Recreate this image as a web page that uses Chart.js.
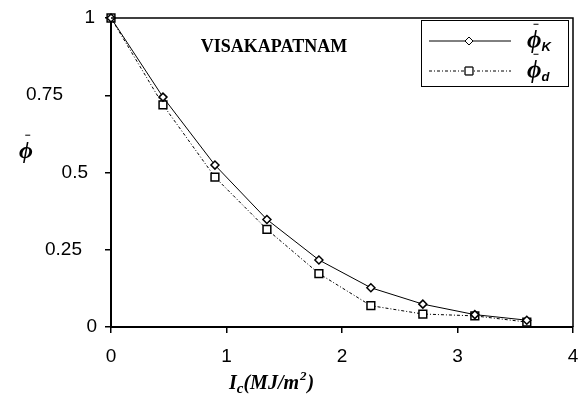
<!DOCTYPE html>
<html>
<head>
<meta charset="utf-8">
<script src="https://cdn.jsdelivr.net/npm/chart.js@4"></script>
<style>
  html, body { margin: 0; padding: 0; background: #fff; }
  #wrap { width: 586px; height: 414px; position: relative; }
</style>
</head>
<body>
<div id="wrap"><canvas id="phiChart" width="586" height="414"></canvas></div>
<script>
// data
const icValues = [0, 0.45, 0.9, 1.35, 1.8, 2.25, 2.7, 3.15, 3.6];
const phiK = [1, 0.744, 0.524, 0.348, 0.217, 0.127, 0.074, 0.040, 0.022];
const phiD = [1, 0.719, 0.485, 0.316, 0.173, 0.069, 0.042, 0.036, 0.016];
const xTickLabels = ['0', '1', '2', '3', '4'];
const yTickLabels = ['0', '0.25', '0.5', '0.75', '1'];

// the y labels in the original are not right aligned, gap from axis per label
const yLabelGap = [14, 29, 23, 48, 16];

const SERIF = "'Liberation Serif', 'Times New Roman', serif";
const SANS = "'Liberation Sans', Arial, sans-serif";

function toPoints(xs, ys) {
    return xs.map((x, i) => ({ x: x, y: ys[i] }));
}

// draws a phi with a bar on top, returns the right edge
function drawPhiBar(ctx, x, y, size) {
    ctx.font = 'italic bold ' + size + 'px ' + SERIF;
    ctx.textAlign = 'left';
    ctx.textBaseline = 'alphabetic';
    ctx.fillText('\u03D5', x, y);
    const w = ctx.measureText('\u03D5').width;
    ctx.beginPath();
    ctx.lineWidth = 1;
    ctx.moveTo(x + w * 0.45, y - size * 0.95);
    ctx.lineTo(x + w * 0.45 + 5, y - size * 0.95);
    ctx.stroke();
    return x + w;
}

const decorations = {
    id: 'decorations',
    afterDraw(chart) {
        const ctx = chart.ctx;
        const area = chart.chartArea;
        const xs = chart.scales.x;
        const ys = chart.scales.y;
        ctx.save();
        ctx.strokeStyle = '#000';
        ctx.fillStyle = '#000';

        // top and right frame lines
        ctx.lineWidth = 1.5;
        ctx.beginPath();
        ctx.moveTo(area.left, area.top);
        ctx.lineTo(area.right, area.top);
        ctx.lineTo(area.right, area.bottom);
        ctx.stroke();

        // tick labels
        ctx.font = '19px ' + SANS;
        ctx.textBaseline = 'middle';
        ctx.textAlign = 'right';
        yTickLabels.forEach((lab, i) => {
            ctx.fillText(lab, area.left - yLabelGap[i], ys.getPixelForValue(parseFloat(lab)));
        });
        ctx.textAlign = 'center';
        xTickLabels.forEach((lab) => {
            ctx.fillText(lab, xs.getPixelForValue(parseFloat(lab)), area.bottom + 30);
        });

        // station name
        ctx.font = 'bold 18px ' + SERIF;
        ctx.textAlign = 'center';
        ctx.textBaseline = 'alphabetic';
        ctx.fillText('VISAKAPATNAM', 274, 52);

        // x axis title  Ic(MJ/m2)
        let tx = 229, ty = 389;
        ctx.textAlign = 'left';
        ctx.font = 'italic bold 20px ' + SERIF;
        ctx.fillText('I', tx, ty);
        tx += ctx.measureText('I').width;
        ctx.font = 'italic bold 15px ' + SERIF;
        ctx.fillText('c', tx, ty + 4);
        tx += ctx.measureText('c').width;
        ctx.font = 'italic bold 20px ' + SERIF;
        ctx.fillText('(MJ/m', tx, ty);
        tx += ctx.measureText('(MJ/m').width;
        ctx.font = 'italic bold 13px ' + SERIF;
        ctx.fillText('2', tx + 1, ty - 9);
        tx += ctx.measureText('2').width + 2;
        ctx.font = 'italic bold 20px ' + SERIF;
        ctx.fillText(')', tx, ty);

        // y axis title
        drawPhiBar(ctx, 19, 158, 24);

        // legend box
        const lx = 421, ly = 20, lw = 147, lh = 66;
        ctx.lineWidth = 1;
        ctx.strokeRect(lx + 0.5, ly + 0.5, lw, lh);
        const rows = [
            { y: ly + 21, sub: 'K', ds: chart.data.datasets[0] },
            { y: ly + 51, sub: 'd', ds: chart.data.datasets[1] }
        ];
        rows.forEach((r) => {
            ctx.save();
            ctx.lineWidth = 1;
            ctx.setLineDash(r.ds.borderDash || []);
            ctx.beginPath();
            ctx.moveTo(lx + 8, r.y);
            ctx.lineTo(lx + 90, r.y);
            ctx.stroke();
            ctx.restore();
            Chart.helpers.drawPoint(ctx, {
                pointStyle: r.ds.pointStyle,
                radius: r.ds.pointRadius,
                borderWidth: r.ds.pointBorderWidth,
                rotation: 0
            }, lx + 48, r.y);
            ctx.fillStyle = '#fff';
            ctx.fill();
            ctx.stroke();
            ctx.fillStyle = '#000';
            const ex = drawPhiBar(ctx, lx + 106, r.y + 7, 25);
            ctx.font = 'italic bold 13px ' + SANS;
            ctx.textAlign = 'left';
            ctx.fillText(r.sub, ex, r.y + 10);
        });

        ctx.restore();
    }
};

const ctx = document.getElementById('phiChart').getContext('2d');
const chart = new Chart(ctx, {
    type: 'scatter',
    data: {
        datasets: [
            {
                label: 'phiK',
                data: toPoints(icValues, phiK),
                showLine: true,
                clip: false,
                borderColor: '#000',
                borderWidth: 1,
                pointStyle: 'rectRot',
                pointRadius: 4,
                pointBorderWidth: 1.5,
                pointBackgroundColor: '#fff',
                pointBorderColor: '#000'
            },
            {
                label: 'phiD',
                data: toPoints(icValues, phiD),
                showLine: true,
                clip: false,
                borderColor: '#000',
                borderWidth: 1,
                borderDash: [3, 2, 1, 2],
                pointStyle: 'rect',
                pointRadius: 5.5,
                pointBorderWidth: 1.5,
                pointBackgroundColor: '#fff',
                pointBorderColor: '#000'
            }
        ]
    },
    options: {
        responsive: false,
        animation: false,
        layout: { padding: { left: 105, top: 18, right: 13, bottom: 81 } },
        plugins: {
            legend: { display: false },
            tooltip: { enabled: false }
        },
        scales: {
            x: {
                type: 'linear',
                min: 0,
                max: 4,
                ticks: { display: false, stepSize: 1 },
                grid: { drawOnChartArea: false, tickLength: 6, color: '#000', lineWidth: 1.5 },
                border: { color: '#000', width: 2 }
            },
            y: {
                min: 0,
                max: 1,
                ticks: { display: false, stepSize: 0.25 },
                grid: { drawOnChartArea: false, tickLength: 6, color: '#000', lineWidth: 1.5 },
                border: { color: '#000', width: 2 }
            }
        }
    },
    plugins: [decorations]
});
</script>
</body>
</html>
